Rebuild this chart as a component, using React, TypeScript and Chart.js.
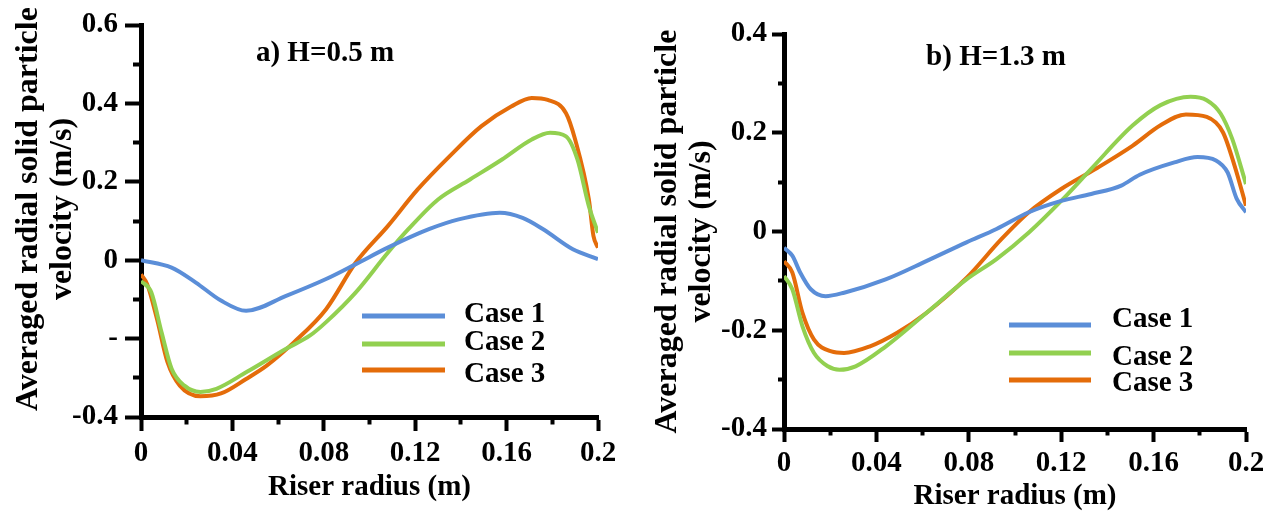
import React, { useEffect, useRef } from 'react';
import { Chart, registerables } from 'chart.js';

Chart.register(...registerables);

const FONT = '"Liberation Serif", "Times New Roman", serif';

// ---------- Data: panel a) H=0.5 m ----------
const aCase1R = [0, 0.0134, 0.024, 0.035, 0.046, 0.0635, 0.081, 0.094, 0.108, 0.126, 0.139, 0.157, 0.167, 0.176, 0.189, 0.2];
const aCase1V = [0, -0.019, -0.057, -0.103, -0.129, -0.091, -0.048, -0.01, 0.032, 0.079, 0.104, 0.121, 0.108, 0.079, 0.028, 0.003];

const aCase2R = [0, 0.0045, 0.009, 0.0134, 0.019, 0.026, 0.033, 0.046, 0.0635, 0.074, 0.081, 0.094, 0.108, 0.117, 0.13, 0.144, 0.158, 0.171, 0.179, 0.186, 0.191, 0.196, 0.2];
const aCase2V = [-0.053, -0.082, -0.184, -0.277, -0.32, -0.336, -0.328, -0.286, -0.226, -0.192, -0.158, -0.082, 0.019, 0.079, 0.155, 0.206, 0.257, 0.308, 0.325, 0.316, 0.257, 0.138, 0.07];

const aCase3R = [0, 0.0027, 0.007, 0.0116, 0.017, 0.026, 0.035, 0.046, 0.055, 0.067, 0.081, 0.094, 0.108, 0.121, 0.135, 0.149, 0.162, 0.171, 0.178, 0.186, 0.19, 0.196, 0.198, 0.2];
const aCase3V = [-0.036, -0.061, -0.15, -0.26, -0.32, -0.347, -0.34, -0.303, -0.269, -0.209, -0.125, -0.006, 0.087, 0.18, 0.265, 0.342, 0.392, 0.414, 0.409, 0.375, 0.308, 0.155, 0.062, 0.032];

// ---------- Data: panel b) H=1.3 m ----------
const bCase1R = [0, 0.0036, 0.007, 0.0116, 0.018, 0.026, 0.044, 0.0616, 0.079, 0.092, 0.106, 0.12, 0.133, 0.146, 0.154, 0.169, 0.179, 0.187, 0.192, 0.196, 0.2];
const bCase1V = [-0.033, -0.049, -0.083, -0.117, -0.131, -0.124, -0.097, -0.06, -0.022, 0.005, 0.039, 0.062, 0.076, 0.093, 0.115, 0.14, 0.151, 0.144, 0.12, 0.066, 0.039];

const bCase2R = [0, 0.0036, 0.008, 0.013, 0.019, 0.024, 0.031, 0.044, 0.0616, 0.079, 0.092, 0.106, 0.12, 0.133, 0.151, 0.163, 0.176, 0.183, 0.189, 0.194, 0.2];
const bCase2V = [-0.09, -0.117, -0.192, -0.246, -0.273, -0.28, -0.273, -0.233, -0.165, -0.097, -0.056, -0.002, 0.062, 0.127, 0.215, 0.256, 0.273, 0.266, 0.239, 0.188, 0.096];

const bCase3R = [0, 0.0036, 0.008, 0.013, 0.0205, 0.026, 0.037, 0.049, 0.0616, 0.079, 0.094, 0.106, 0.12, 0.135, 0.151, 0.163, 0.174, 0.183, 0.19, 0.195, 0.2];
const bCase3V = [-0.06, -0.083, -0.165, -0.219, -0.243, -0.246, -0.233, -0.205, -0.165, -0.094, -0.016, 0.039, 0.086, 0.127, 0.174, 0.215, 0.237, 0.232, 0.201, 0.134, 0.052];

// ---------- Labels / ticks ----------
const seriesLabels = ['Case 1', 'Case 2', 'Case 3'];
const seriesColors = ['#5B8ED8', '#92D050', '#E46C0A'];

const xMajorValues = [0, 0.04, 0.08, 0.12, 0.16, 0.2];
const xTickLabels = ['0', '0.04', '0.08', '0.12', '0.16', '0.2'];

const aYMajorValues = [-0.4, -0.2, 0, 0.2, 0.4, 0.6];
const aYTickLabels = ['-0.4', '-', '0', '0.2', '0.4', '0.6'];

const bYMajorValues = [-0.4, -0.2, 0, 0.2, 0.4];
const bYTickLabels = ['-0.4', '-0.2', '0', '0.2', '0.4'];

const xTitle = 'Riser radius (m)';
const aYTitle = ['   Averaged radial solid particle', '   velocity (m/s)'];
const bYTitle = ['Averaged radial solid particle', 'velocity (m/s)'];
const aTitle = 'a) H=0.5 m';
const bTitle = 'b) H=1.3 m';

const toPts = (r: number[], v: number[]) => r.map((x, i) => ({ x, y: v[i] }));

const labelFor = (vals: number[], labels: string[]) => (v: number) => {
  const i = vals.findIndex((m) => Math.abs(m - v) < 1e-6);
  return i >= 0 ? labels[i] : '';
};
const isMajor = (vals: number[], v: number) => vals.some((m) => Math.abs(m - v) < 1e-6);

const panelPlugin = {
  id: 'panelText',
  afterDraw(chart: any, _args: any, opts: any) {
    const ctx = chart.ctx;
    ctx.save();
    ctx.fillStyle = '#000';
    ctx.font = `bold 29px ${FONT}`;
    ctx.textAlign = 'center';
    ctx.textBaseline = 'middle';
    ctx.fillText(opts.title, opts.titleX, opts.titleY);
    // legend
    const ds = chart.data.datasets;
    ctx.textAlign = 'left';
    ds.forEach((d: any, i: number) => {
      ctx.strokeStyle = d.borderColor;
      ctx.lineWidth = 5;
      ctx.beginPath();
      ctx.moveTo(opts.legX1, opts.legLineY[i]);
      ctx.lineTo(opts.legX2, opts.legLineY[i]);
      ctx.stroke();
      ctx.fillStyle = '#000';
      ctx.fillText(d.label, opts.legTextX, opts.legTextY[i]);
    });
    ctx.restore();
  },
};

type Panel = {
  width: number;
  series: { r: number[]; v: number[] }[];
  yMin: number;
  yMax: number;
  yVals: number[];
  yLabels: string[];
  yTitle: string[];
  yAxisW: number;
  xAxisH: number;
  padR: number;
  padT: number;
  yTickLen: number;
  yMinorOff: number;
  yTickPad: number;
  yTitlePad: number;
  xTickLen: number;
  xMinorLen: number;
  xTickPad: number;
  xTitlePad: number;
  text: any;
};

function makeConfig(p: Panel): any {
  const tickFont = { family: FONT, weight: 'bold', size: 29 };
  return {
    type: 'line',
    data: {
      datasets: p.series.map((s, i) => ({
        label: seriesLabels[i],
        data: toPts(s.r, s.v),
        borderColor: seriesColors[i],
        backgroundColor: seriesColors[i],
        borderWidth: 4,
        pointRadius: 0,
        tension: 0.4,
        cubicInterpolationMode: 'monotone',
        fill: false,
      })),
    },
    options: {
      animation: false,
      responsive: false,
      devicePixelRatio: 1,
      layout: { padding: { left: 0, right: p.padR, top: p.padT, bottom: 0 } },
      plugins: {
        legend: { display: false },
        tooltip: { enabled: false },
        panelText: p.text,
      },
      scales: {
        x: {
          type: 'linear',
          min: 0,
          max: 0.2,
          afterFit: (s: any) => {
            s.height = p.xAxisH;
          },
          border: { display: true, color: '#000', width: 5 },
          grid: {
            drawOnChartArea: false,
            drawTicks: true,
            tickLength: p.xTickLen,
            tickWidth: 4,
            tickColor: '#000',
            tickBorderDash: (c: any) =>
              c.tick && !isMajor(xMajorValues, c.tick.value) ? [p.xMinorLen, 100] : [],
          },
          ticks: {
            stepSize: 0.02,
            autoSkip: false,
            maxRotation: 0,
            padding: p.xTickPad,
            color: '#000',
            font: tickFont,
            callback: labelFor(xMajorValues, xTickLabels),
          },
          title: {
            display: true,
            text: xTitle,
            color: '#000',
            font: { family: FONT, weight: 'bold', size: 29, lineHeight: 1 },
            padding: { top: 0, bottom: p.xTitlePad },
          },
        },
        y: {
          type: 'linear',
          min: p.yMin,
          max: p.yMax,
          afterFit: (s: any) => {
            s.width = p.yAxisW;
          },
          border: { display: true, color: '#000', width: 5 },
          grid: {
            drawOnChartArea: false,
            drawTicks: true,
            tickLength: p.yTickLen,
            tickWidth: 4,
            tickColor: '#000',
            tickBorderDash: (c: any) =>
              c.tick && !isMajor(p.yVals, c.tick.value) ? [0, p.yMinorOff, 100, 0] : [],
          },
          ticks: {
            stepSize: 0.1,
            autoSkip: false,
            padding: p.yTickPad,
            color: '#000',
            font: tickFont,
            callback: labelFor(p.yVals, p.yLabels),
          },
          title: {
            display: true,
            text: p.yTitle,
            color: '#000',
            font: { family: FONT, weight: 'bold', size: 32, lineHeight: 1.08 },
            padding: { top: p.yTitlePad, bottom: 0 },
          },
        },
      },
    },
    plugins: [panelPlugin],
  };
}

const panelA: Panel = {
  width: 640,
  series: [
    { r: aCase1R, v: aCase1V },
    { r: aCase2R, v: aCase2V },
    { r: aCase3R, v: aCase3V },
  ],
  yMin: -0.4,
  yMax: 0.6,
  yVals: aYMajorValues,
  yLabels: aYTickLabels,
  yTitle: aYTitle,
  yAxisW: 141,
  xAxisH: 94,
  padR: 42,
  padT: 25,
  yTickLen: 16,
  yMinorOff: 8,
  yTickPad: 7,
  yTitlePad: 11,
  xTickLen: 14,
  xMinorLen: 4.5,
  xTickPad: 5,
  xTitlePad: 8.5,
  text: {
    title: aTitle,
    titleX: 325,
    titleY: 54,
    legX1: 362,
    legX2: 445,
    legTextX: 464,
    legLineY: [316, 344, 370],
    legTextY: [315, 343, 375],
  },
};

const panelB: Panel = {
  width: 644,
  series: [
    { r: bCase1R, v: bCase1V },
    { r: bCase2R, v: bCase2V },
    { r: bCase3R, v: bCase3V },
  ],
  yMin: -0.4,
  yMax: 0.4,
  yVals: bYMajorValues,
  yLabels: bYTickLabels,
  yTitle: bYTitle,
  yAxisW: 144,
  xAxisH: 82,
  padR: 38,
  padT: 34,
  yTickLen: 12,
  yMinorOff: 6,
  yTickPad: 5,
  yTitlePad: 10,
  xTickLen: 13,
  xMinorLen: 3.5,
  xTickPad: 4,
  xTitlePad: 0,
  text: {
    title: bTitle,
    titleX: 356,
    titleY: 58,
    legX1: 369,
    legX2: 451,
    legTextX: 472,
    legLineY: [325, 353, 380],
    legTextY: [320, 358, 384],
  },
};

function ChartPanel({ panel, left }: { panel: Panel; left: number }) {
  const ref = useRef<HTMLCanvasElement | null>(null);
  useEffect(() => {
    if (!ref.current) return;
    const chart = new Chart(ref.current, makeConfig(panel));
    return () => chart.destroy();
  }, [panel]);
  return (
    <canvas
      ref={ref}
      width={panel.width}
      height={511}
      style={{ position: 'absolute', left, top: 0, width: panel.width, height: 511 }}
    />
  );
}

export default function App() {
  return (
    <div
      style={{
        position: 'fixed',
        left: 0,
        top: 0,
        width: 1284,
        height: 511,
        background: '#fff',
        overflow: 'hidden',
      }}
    >
      <ChartPanel panel={panelA} left={0} />
      <ChartPanel panel={panelB} left={640} />
    </div>
  );
}
